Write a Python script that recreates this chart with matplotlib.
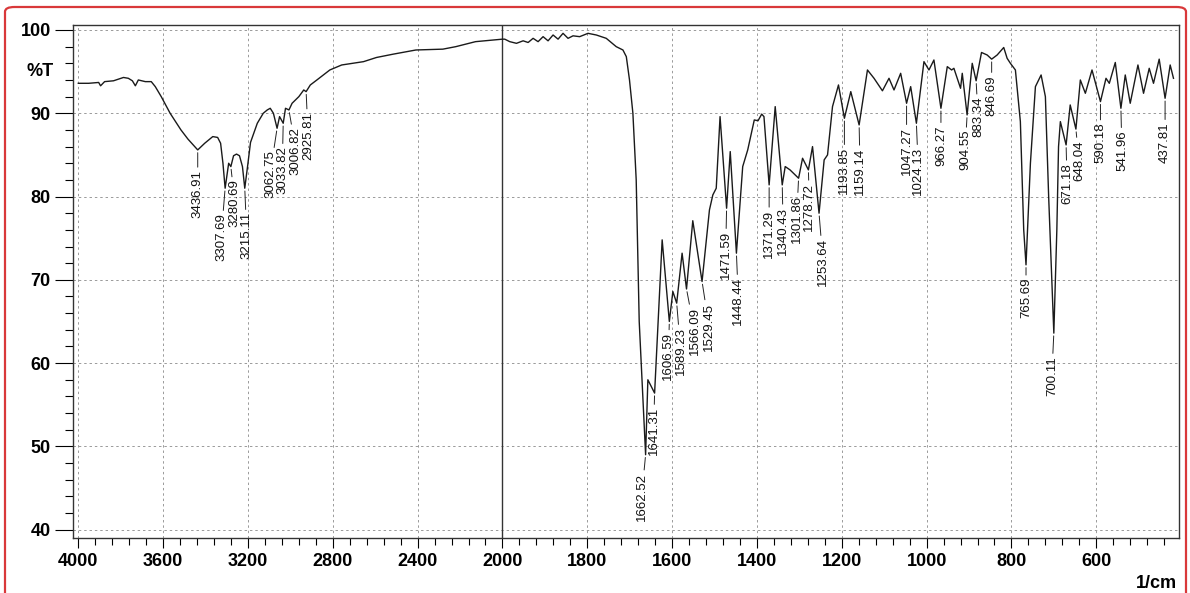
import numpy as np
import matplotlib.pyplot as plt
from matplotlib.patches import FancyBboxPatch

plt.rcParams['font.family'] = ['Liberation Sans', 'DejaVu Sans']

# IR spectrum trace: wavenumber (1/cm) and transmittance (%T)
wn = [4000, 3951, 3904, 3895, 3876, 3834, 3787, 3764, 3745, 3731, 3717, 3684, 3656, 3637,
      3609, 3567, 3516, 3483, 3436.91, 3404, 3366, 3343, 3329, 3318, 3307.69, 3291, 3280.69,
      3268, 3254, 3240, 3226, 3215.11, 3202, 3188, 3156, 3128, 3109, 3095, 3080, 3062.75,
      3051, 3033.82, 3023, 3006.82, 2992, 2960, 2937, 2925.81, 2906, 2875, 2814, 2758, 2655,
      2594, 2515, 2408, 2281, 2220, 2127, 2000,
      1994.6, 1982.8, 1967, 1951.3, 1939.5, 1927.8, 1916, 1904.2, 1892.5, 1880.7, 1868.9,
      1857.2, 1845.4, 1833.6, 1818, 1798.3, 1778.8, 1755.3, 1731.8, 1716, 1708, 1700.5,
      1692.5, 1684.7, 1677.6, 1662.52, 1657.2, 1641.31, 1623.5, 1606.59, 1598.3, 1589.23,
      1576.5, 1566.09, 1551.3, 1529.45, 1512, 1504, 1496, 1487, 1471.59, 1463, 1448.44,
      1433.6, 1421.8, 1406.3, 1397.5, 1388.8, 1383.5, 1371.29, 1357, 1340.43, 1333.4, 1322,
      1301.86, 1292.5, 1278.72, 1269, 1253.64, 1241.6, 1233.6, 1221.9, 1207.8, 1193.85,
      1178.8, 1159.14, 1139.5, 1124, 1104.2, 1088.7, 1076.9, 1061.2, 1047.27, 1037.6,
      1024.13, 1006.3, 994.5, 982.8, 966.27, 951.3, 941.1, 935.7, 920, 916, 904.55, 892.5,
      883.34, 870.6, 857.3, 846.69, 833.7, 818.2, 810.2, 802.5, 790.7, 779, 771.1, 765.69,
      755.3, 743.5, 730.1, 720, 712.3, 700.11, 693, 689, 684.7, 671.18, 661.5, 648.04,
      637.6, 625.8, 610.1, 590.18, 577.1, 569.3, 555.2, 541.96, 531.7, 520, 501.8, 488.6,
      475.2, 465.1, 451.7, 437.81, 425.8, 418]
trans = [93.6, 93.6, 93.7, 93.3, 93.8, 93.9, 94.3, 94.2, 93.9, 93.3, 94.0, 93.8, 93.8, 93.2,
         92.0, 90.0, 88.0, 86.9, 85.6, 86.4, 87.2, 87.1, 86.4, 84.0, 81.0, 84.0, 83.6,
         84.9, 85.1, 84.9, 83.6, 81.0, 83.6, 86.5, 88.8, 90.0, 90.4, 90.6, 90.0, 88.2,
         89.6, 88.8, 90.6, 90.4, 91.2, 92.0, 92.8, 92.6, 93.4, 94.0, 95.2, 95.8, 96.2,
         96.7, 97.1, 97.6, 97.7, 98.0, 98.6, 98.9,
         98.9, 98.6, 98.4, 98.7, 98.5, 99.0, 98.6, 99.2, 98.7, 99.4, 98.9,
         99.6, 99.0, 99.3, 99.2, 99.6, 99.4, 99.0, 98.0, 97.6, 96.8, 94.0,
         90.0, 82.0, 65.0, 49.0, 58.0, 56.4, 74.8, 65.0, 68.6, 67.2,
         73.2, 68.9, 77.1, 69.8, 78.4, 80.2, 81.0, 89.6, 78.6, 85.4, 73.2,
         83.6, 85.6, 89.2, 89.1, 89.9, 89.6, 81.4, 90.8, 81.4, 83.6, 83.2,
         82.2, 84.6, 83.2, 86.0, 78.0, 84.4, 85.0, 90.8, 93.4, 89.4,
         92.6, 88.6, 95.2, 94.2, 92.7, 94.2, 92.8, 94.8, 91.2, 93.2,
         88.8, 96.2, 95.2, 96.4, 90.6, 95.6, 95.2, 95.4, 93.0, 94.8, 89.8, 96.0,
         93.9, 97.3, 97.0, 96.5, 97.0, 97.9, 96.6, 96.0, 95.2, 89.0, 76.0, 71.8,
         84.0, 93.2, 94.6, 92.0, 80.0, 63.6, 76.0, 86.0, 89.0, 86.2, 91.0, 88.1,
         94.0, 92.4, 95.2, 91.4, 94.2, 93.6, 96.1, 90.6, 94.6, 91.2, 95.8, 92.4,
         95.4, 93.6, 96.5, 91.8, 95.8, 94.2]

# picked peaks (labelled on the chart)
peaks = [3436.91, 3307.69, 3280.69, 3215.11, 3062.75, 3033.82, 3006.82, 2925.81,
         1662.52, 1641.31, 1606.59, 1589.23, 1566.09, 1529.45, 1471.59, 1448.44,
         1371.29, 1340.43, 1301.86, 1278.72, 1253.64, 1193.85, 1159.14, 1047.27,
         1024.13, 966.27, 904.55, 883.34, 846.69, 765.69, 700.11, 671.18, 648.04,
         590.18, 541.96, 437.81]

x_major = [4000, 3600, 3200, 2800, 2400, 2000, 1800, 1600, 1400, 1200, 1000, 800, 600]
y_major = [40, 50, 60, 70, 80, 90, 100]

# label placement (pixels right / down from each peak)
label_shift = [(0, 20), (-4, 25), (4, 13), (2, 24), (-7, 22), (-1, 23), (7, 17), (2, 20),
               (-4, 18), (-1, 14), (-1, 11), (4, 24), (8, 18), (7, 21), (-1, 23), (2, 24),
               (0, 25), (1, 22), (-2, 17), (1, 13), (4, 25), (0, 29), (1, 23), (0, 24),
               (2, 24), (0, 17), (-2, 15), (2, 16), (0, 16), (0, 13), (-2, 23), (1, 18),
               (3, 11), (0, 21), (1, 22), (0, 24)]


# scale changes at 2000 1/cm: 400 per division above, 200 per division below
def fwd(w):
    w = np.asarray(w, dtype=float)
    return np.where(w >= 2000, (w - 2000) / 400.0, (w - 2000) / 200.0)


def inv(u):
    u = np.asarray(u, dtype=float)
    return np.where(u >= 0, 2000 + u * 400.0, 2000 + u * 200.0)


fig = plt.figure(figsize=(11.9, 5.93), dpi=100)
ax = fig.add_axes([73 / 1190, 1 - 538 / 593, (1179 - 73) / 1190, (538 - 25) / 593])
ax.set_xscale('function', functions=(fwd, inv))
ax.set_xlim(4025, 405)
ax.set_ylim(39, 100.6)

grid_kw = dict(color='#9a9a9a', lw=0.7, ls=(0, (2.5, 3)), zorder=0)
for x in x_major:
    if x != 2000:
        ax.axvline(x, **grid_kw)
for y in y_major:
    ax.axhline(y, **grid_kw)
ax.axvline(2000, color='#333333', lw=1.0, zorder=1)

ax.plot(wn, trans, color='#1a1a1a', lw=1.0, zorder=3)

tmap = dict(zip(wn, trans))
for p, (dx, dy) in zip(peaks, label_shift):
    ax.annotate(f'{p:.2f}', xy=(p, tmap[p]), xytext=(dx, -dy), textcoords='offset pixels',
                rotation=90, ha='center', va='top', fontsize=9.5, color='#111111',
                arrowprops=dict(arrowstyle='-', color='#222222', lw=0.7,
                                shrinkA=0, shrinkB=2), zorder=4)

minor_x = [w for w in list(range(4000, 2000, -80)) + list(range(2000, 400, -40))
           if w not in x_major]
ax.set_xticks(x_major)
ax.set_xticklabels([str(v) for v in x_major], fontweight='bold')
ax.set_xticks(minor_x, minor=True)
ax.set_yticks(y_major)
ax.set_yticklabels([str(v) for v in y_major], fontweight='bold')
ax.set_yticks(np.arange(40, 101, 2), minor=True)

ax.tick_params(axis='y', which='major', length=13, width=0.8, labelsize=13, pad=3)
ax.tick_params(axis='y', which='minor', length=6, width=0.8)
ax.tick_params(axis='x', which='major', length=7, width=0.8, labelsize=13, pad=4)
ax.tick_params(axis='x', which='minor', length=5, width=0.8)
for s in ax.spines.values():
    s.set_linewidth(1.0)
    s.set_color('#333333')

fig.text(40 / 1190, 1 - 72 / 593, '%T', fontsize=13, fontweight='bold',
         ha='center', va='center')
fig.text(1156 / 1190, 1 - 584 / 593, '1/cm', fontsize=13, fontweight='bold',
         ha='center', va='center')

border = FancyBboxPatch((5 / 1190, -0.05), 1181 / 1190, 1 - 7 / 593 + 0.05,
                        boxstyle='round,pad=0,rounding_size=0.008',
                        transform=fig.transFigure, fill=False,
                        edgecolor='#d9383a', lw=1.6)
fig.patches.append(border)

fig.savefig('out.png', dpi=100)
